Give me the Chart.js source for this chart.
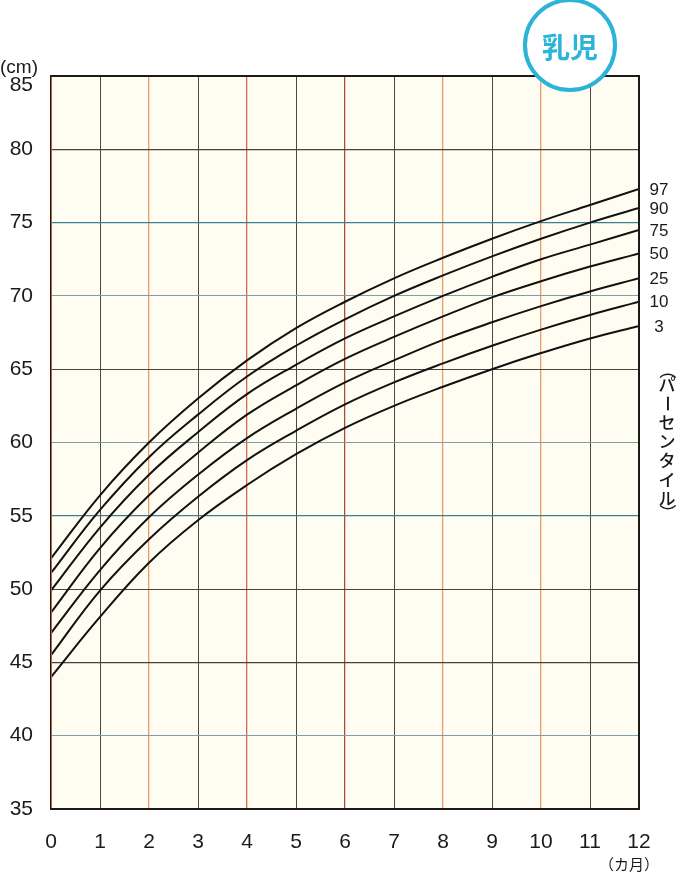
<!DOCTYPE html>
<html>
<head>
<meta charset="utf-8">
<script src="https://cdn.jsdelivr.net/npm/chart.js@4/dist/chart.umd.min.js"></script>
<style>
  body { margin: 0; background: #fff; }
  #wrap { position: relative; width: 680px; height: 874px; }
</style>
</head>
<body>
<div id="wrap"><canvas id="chart" width="680" height="874"></canvas></div>
<script>
// 月齢 (カ月)
const months = [0, 1, 2, 3, 4, 5, 6, 7, 8, 9, 10, 11, 12];
const yTicks = [35, 40, 45, 50, 55, 60, 65, 70, 75, 80, 85];
const percentiles = ['97', '90', '75', '50', '25', '10', '3'];

// 身長 (cm) パーセンタイル曲線
const p97 = [52.1, 56.4, 60.0, 63.0, 65.6, 67.8, 69.6, 71.2, 72.6, 73.9, 75.1, 76.2, 77.3];
const p90 = [51.1, 55.4, 59.0, 61.9, 64.5, 66.6, 68.4, 70.0, 71.4, 72.7, 73.9, 75.0, 76.0];
const p75 = [49.9, 54.2, 57.8, 60.7, 63.3, 65.3, 67.1, 68.6, 70.0, 71.3, 72.5, 73.5, 74.5];
const p50 = [48.4, 52.8, 56.4, 59.3, 61.9, 63.9, 65.7, 67.2, 68.6, 69.9, 71.0, 72.0, 72.9];
const p25 = [47.0, 51.3, 54.9, 57.8, 60.3, 62.3, 64.1, 65.6, 67.0, 68.2, 69.3, 70.3, 71.2];
const p10 = [45.5, 49.9, 53.4, 56.3, 58.8, 60.8, 62.6, 64.1, 65.4, 66.6, 67.7, 68.7, 69.6];
const p3  = [44.0, 48.1, 51.8, 54.7, 57.1, 59.2, 61.0, 62.5, 63.8, 65.0, 66.1, 67.1, 67.95];

const series = [p97, p90, p75, p50, p25, p10, p3];

const numFont = '"Liberation Sans", Arial, sans-serif';
const jpFont = '"Noto Sans CJK JP", sans-serif';

// 縦グリッドの色
function xGridColor(v) {
  if (v === 0 || v === 12) return 'rgba(0,0,0,0)';
  if (v % 2 === 1) return '#4a4a40';
  if (v === 4) return '#d06a44';
  if (v === 6) return '#a85036';
  return '#ec9a6c';
}
// 横グリッドの色
function yGridColor(v) {
  if (v === 35 || v === 85) return 'rgba(0,0,0,0)';
  if (v === 75 || v === 55) return '#3f8090';
  if (v === 70 || v === 60 || v === 40) return '#7f9eaa';
  return '#45453c';
}

const decor = {
  id: 'decor',
  beforeDraw(chart) {
    const { ctx, chartArea: a } = chart;
    ctx.save();
    ctx.fillStyle = '#ffffff';
    ctx.fillRect(0, 0, chart.width, chart.height);
    ctx.fillStyle = '#fffdf2';
    ctx.fillRect(a.left, a.top, a.right - a.left, a.bottom - a.top);
    ctx.restore();
  },
  afterDraw(chart) {
    const { ctx, chartArea: a, scales } = chart;
    const x = scales.x, y = scales.y;
    ctx.save();

    // 枠
    ctx.strokeStyle = '#1a1a1a';
    ctx.lineWidth = 2;
    ctx.strokeRect(a.left, a.top, a.right - a.left, a.bottom - a.top);
    ctx.strokeStyle = '#b4603c';
    ctx.lineWidth = 1;
    ctx.beginPath();
    ctx.moveTo(a.left + 0.5, a.top + 1);
    ctx.lineTo(a.left + 0.5, a.bottom - 1);
    ctx.stroke();

    ctx.fillStyle = '#1a1a1a';
    // y 目盛
    ctx.font = '21px ' + numFont;
    ctx.textAlign = 'right';
    ctx.textBaseline = 'middle';
    yTicks.forEach(v => {
      let py = y.getPixelForValue(v);
      if (v === 85) py += 9;
      ctx.fillText(String(v), 33, py);
    });
    ctx.font = '19px ' + numFont;
    ctx.textAlign = 'left';
    ctx.fillText('(cm)', 0, 68);

    // x 目盛
    ctx.font = '21px ' + numFont;
    ctx.textAlign = 'center';
    months.forEach(m => {
      ctx.fillText(String(m), x.getPixelForValue(m), a.bottom + 33);
    });
    ctx.font = '15px ' + jpFont;
    ctx.fillText('（カ月）', 629, a.bottom + 55);

    // パーセンタイル
    ctx.font = '17px ' + numFont;
    ctx.textAlign = 'center';
    series.forEach((s, i) => {
      const py = y.getPixelForValue(s[s.length - 1]) + 1;
      ctx.fillText(percentiles[i], a.right + 20, py);
    });

    // 縦書き
    ctx.font = '500 17px ' + jpFont;
    ctx.textAlign = 'center';
    const chars = Array.from('（パーセンタイル）');
    let cy = 366;
    chars.forEach(ch => {
      const isParen = ch === '（' || ch === '）';
      const adv = isParen ? 9 : 19;
      const cx = 667, c = cy + adv / 2;
      if (isParen || ch === 'ー') {
        ctx.save();
        ctx.translate(cx, c);
        ctx.rotate(Math.PI / 2);
        ctx.fillText(ch, 0, 0);
        ctx.restore();
      } else {
        ctx.fillText(ch, cx, c);
      }
      cy += adv;
    });

    // 乳児バッジ
    ctx.beginPath();
    ctx.arc(570, 45, 45, 0, Math.PI * 2);
    ctx.fillStyle = '#ffffff';
    ctx.fill();
    ctx.lineWidth = 4;
    ctx.strokeStyle = '#2bb3d8';
    ctx.stroke();
    ctx.fillStyle = '#2bb3d8';
    ctx.font = 'bold 28px ' + jpFont;
    ctx.textAlign = 'center';
    ctx.textBaseline = 'middle';
    ctx.fillText('乳児', 570, 47);

    ctx.restore();
  }
};

new Chart(document.getElementById('chart'), {
  type: 'line',
  data: {
    labels: months,
    datasets: series.map((s, i) => ({
      label: percentiles[i],
      data: months.map((m, j) => ({ x: m, y: s[j] })),
      borderColor: '#111111',
      borderWidth: 2,
      pointRadius: 0,
      fill: false,
      tension: 0.4
    }))
  },
  options: {
    responsive: false,
    animation: false,
    devicePixelRatio: 1,
    layout: { padding: { left: 51, right: 41, top: 76, bottom: 65 } },
    plugins: { legend: { display: false }, tooltip: { enabled: false } },
    scales: {
      x: {
        type: 'linear', min: 0, max: 12,
        ticks: { display: false, stepSize: 1 },
        border: { display: false },
        grid: {
          drawTicks: false,
          color: c => xGridColor(c.tick.value),
          lineWidth: c => (c.tick.value % 2 === 0 ? 1.3 : 1)
        }
      },
      y: {
        min: 35, max: 85,
        ticks: { display: false, stepSize: 5 },
        border: { display: false },
        grid: {
          drawTicks: false,
          color: c => yGridColor(c.tick.value),
          lineWidth: c => ([75, 55, 45, 80].includes(c.tick.value) ? 1.3 : 1)
        }
      }
    }
  },
  plugins: [decor]
});
</script>
</body>
</html>
